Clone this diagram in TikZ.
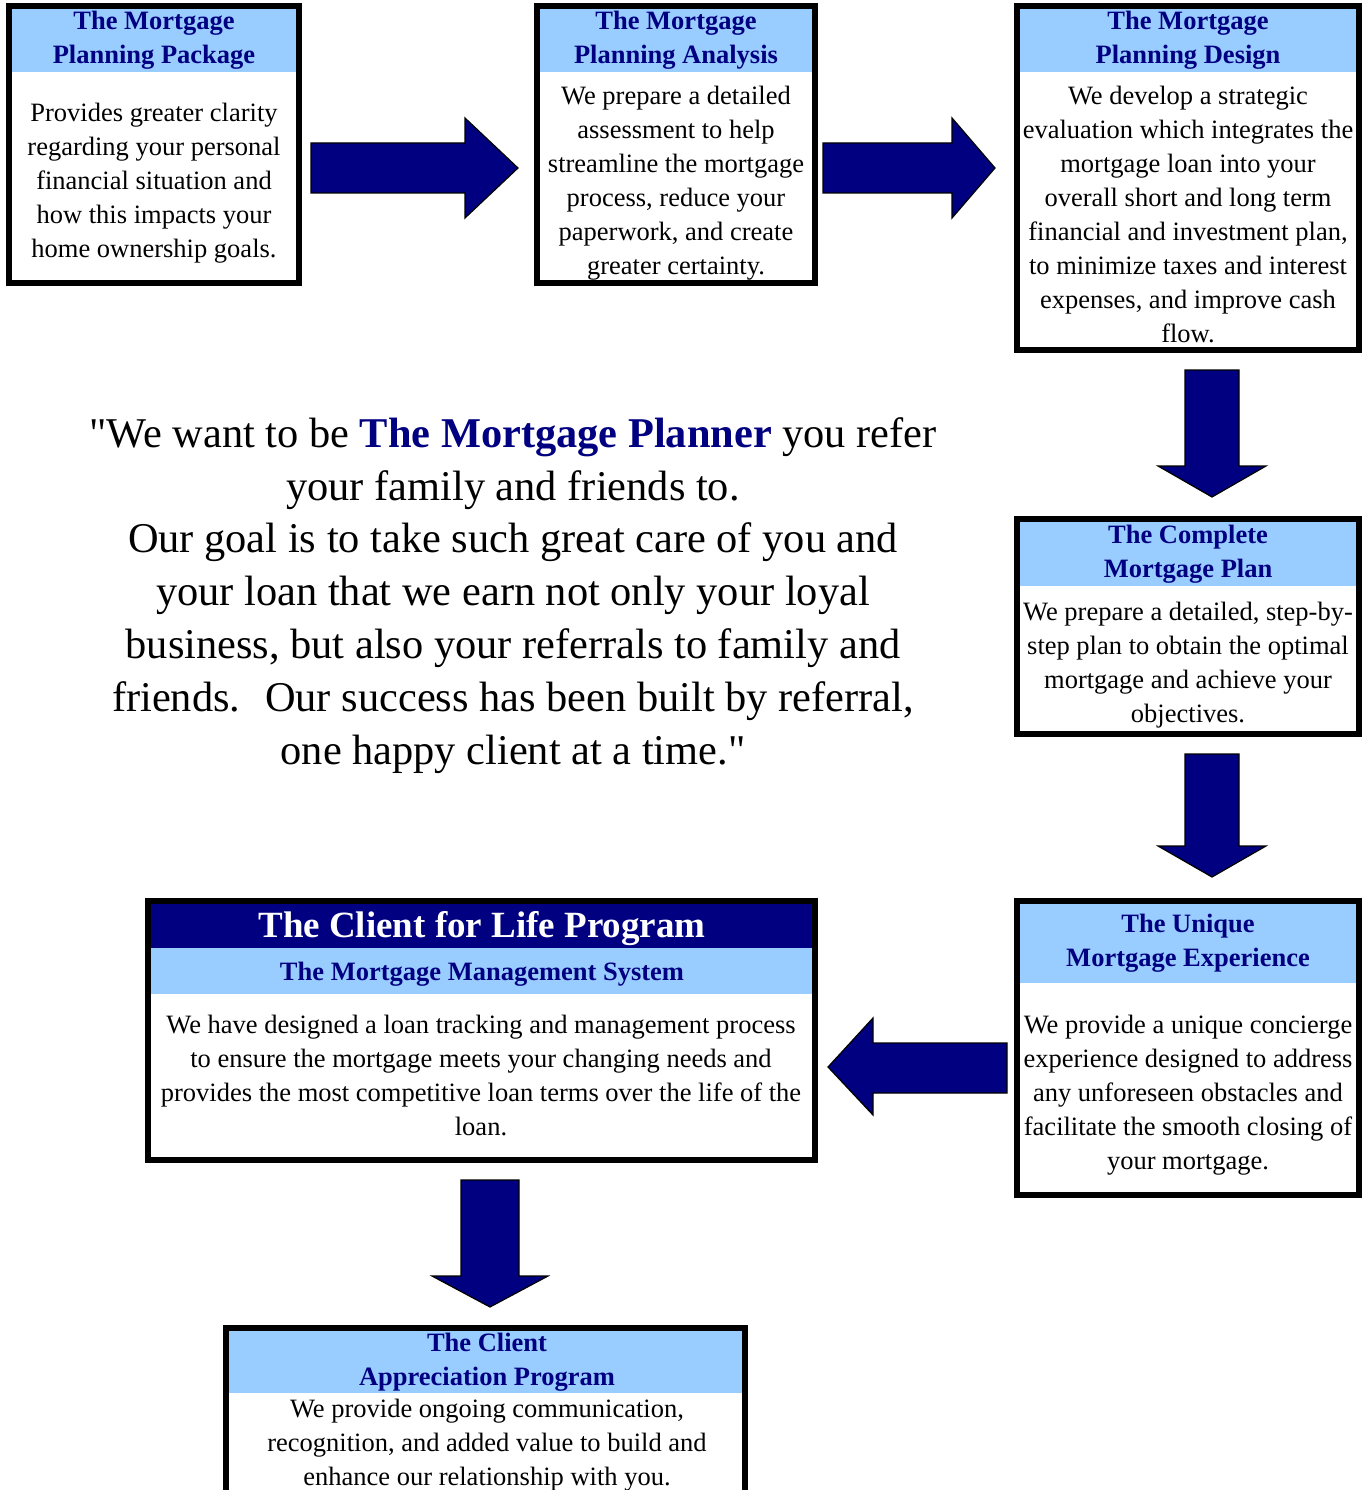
\documentclass[tikz,border=0pt]{standalone}
\usepackage{fontspec}
\setmainfont{Liberation Serif}
\usetikzlibrary{calc}
\definecolor{navy}{HTML}{000080}
\definecolor{headblue}{HTML}{99CCFF}
\tikzset{
  frame/.style={draw=black,line width=6pt,fill=white,inner sep=0pt,outer sep=0pt},
  headbar/.style={fill=headblue,inner sep=0pt,outer sep=0pt,anchor=north},
  darkbar/.style={headbar,fill=navy},
  titletext/.style={anchor=base,align=center,inner sep=0pt,text=navy,
    font=\fontsize{26.5}{34}\selectfont\bfseries},
  bodytext/.style={anchor=base,align=center,inner sep=0pt,
    font=\fontsize{26.5}{34}\selectfont},
  bigtitle/.style={anchor=base,inner sep=0pt,text=white,
    font=\fontsize{37}{44}\selectfont\bfseries},
  quotetext/.style={anchor=base,align=center,inner sep=0pt,
    font=\fontsize{42.4}{52.8}\selectfont},
  blockarrow/.style={fill=navy,draw=black,line width=1.2pt,line join=miter},
}

\begin{document}
\begin{tikzpicture}[x=1pt,y=1pt]
\path[use as bounding box,clip] (0,0) rectangle (1366,-1490);
\node[frame,minimum width=290pt,minimum height=277pt] (pkg) at (154,-144.5) {};
\node[headbar,minimum width=284pt,minimum height=63pt] (pkgbar) at ($(pkg.north)+(0,-3)$) {};
\node[titletext] (pkgtitle) at (154,-64) {The Mortgage\\Planning Package};
\node[bodytext] (pkgtext) at (154,-257) {Provides greater clarity\\regarding your personal\\financial situation and\\how this impacts your\\home ownership goals.};
\node[frame,minimum width=278pt,minimum height=277pt] (ana) at (676,-144.5) {};
\node[headbar,minimum width=272pt,minimum height=63pt] (anabar) at ($(ana.north)+(0,-3)$) {};
\node[titletext] (anatitle) at (676,-64) {The Mortgage\\Planning Analysis};
\node[bodytext] (anatext) at (676,-274) {We prepare a detailed\\assessment to help\\streamline the mortgage\\process, reduce your\\paperwork, and create\\greater certainty.};
\node[frame,minimum width=342pt,minimum height=344pt] (design) at (1188,-178) {};
\node[headbar,minimum width=336pt,minimum height=63pt] (designbar) at ($(design.north)+(0,-3)$) {};
\node[titletext] (designtitle) at (1188,-64) {The Mortgage\\Planning Design};
\node[bodytext] (designtext) at (1188,-342) {We develop a strategic\\evaluation which integrates the\\mortgage loan into your\\overall short and long term\\financial and investment plan,\\to minimize taxes and interest\\expenses, and improve cash\\flow.};
\node[frame,minimum width=342pt,minimum height=215pt] (plan) at (1188,-626.5) {};
\node[headbar,minimum width=336pt,minimum height=64pt] (planbar) at ($(plan.north)+(0,-3)$) {};
\node[titletext] (plantitle) at (1188,-577) {The Complete\\Mortgage Plan};
\node[bodytext] (plantext) at (1188,-722) {We prepare a detailed, step-by-\\step plan to obtain the optimal\\mortgage and achieve your\\objectives.};
\node[frame,minimum width=342pt,minimum height=294pt] (unique) at (1188,-1048) {};
\node[headbar,minimum width=336pt,minimum height=79pt] (uniquebar) at ($(unique.north)+(0,-3)$) {};
\node[titletext] (uniquetitle) at (1188,-966) {The Unique\\Mortgage Experience};
\node[bodytext] (uniquetext) at (1188,-1169) {We provide a unique concierge\\experience designed to address\\any unforeseen obstacles and\\facilitate the smooth closing of\\your mortgage.};
\node[frame,minimum width=667pt,minimum height=259pt] (life) at (481.5,-1030.5) {};
\node[darkbar,minimum width=661pt,minimum height=44pt] (lifebar) at ($(life.north)+(0,-3)$) {};
\node[headbar,minimum width=661pt,minimum height=46pt] (lifesubbar) at (lifebar.south) {};
\node[bigtitle] (lifetitle) at (482,-937) {The Client for Life Program};
\node[titletext] (lifesub) at (482,-980) {The Mortgage Management System};
\node[bodytext] (lifetext) at (481,-1135) {We have designed a loan tracking and management process\\to ensure the mortgage meets your changing needs and\\provides the most competitive loan terms over the life of the\\loan.};
\node[frame,minimum width=519pt,minimum height=212pt] (apprec) at (485.5,-1434) {};
\node[headbar,minimum width=513pt,minimum height=62pt] (apprecbar) at ($(apprec.north)+(0,-3)$) {};
\node[titletext] (aprectitle) at (487,-1385) {The Client\\Appreciation Program};
\node[bodytext] (apprectext) at (487,-1485) {We provide ongoing communication,\\recognition, and added value to build and\\enhance our relationship with you.};
\node[quotetext] (quote) at (513,-764) {\textquotedbl We want to be {\bfseries\color{navy}The Mortgage Planner} you refer\\your family and friends to.\\Our goal is to take such great care of you and\\your loan that we earn not only your loyal\\business, but also your referrals to family and\\friends.~ Our success has been built by referral,\\one happy client at a time.\textquotedbl};
\draw[blockarrow] (311,-143) -- (465,-143) -- (465,-118) -- (518,-168) -- (465,-218) -- (465,-193) -- (311,-193) -- cycle;
\draw[blockarrow] (823,-143) -- (952,-143) -- (952,-118) -- (995,-168) -- (952,-218) -- (952,-193) -- (823,-193) -- cycle;
\draw[blockarrow] (1185,-370) -- (1239,-370) -- (1239,-466) -- (1266,-466) -- (1212,-497) -- (1158,-466) -- (1185,-466) -- cycle;
\draw[blockarrow] (1185,-754) -- (1239,-754) -- (1239,-846) -- (1266,-846) -- (1212,-877) -- (1158,-846) -- (1185,-846) -- cycle;
\draw[blockarrow] (1007,-1043) -- (873,-1043) -- (873,-1018) -- (828,-1067) -- (873,-1115) -- (873,-1093) -- (1007,-1093) -- cycle;
\draw[blockarrow] (461,-1180) -- (519,-1180) -- (519,-1276) -- (548,-1276) -- (490,-1307) -- (432,-1276) -- (461,-1276) -- cycle;
\end{tikzpicture}
\end{document}
